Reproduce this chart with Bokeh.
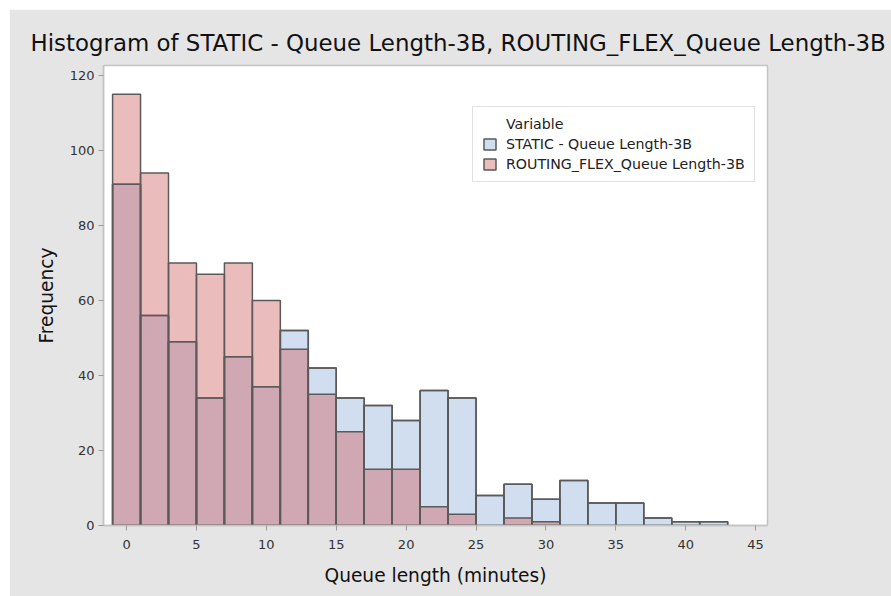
from bokeh.plotting import figure
from bokeh.models import Range1d, ColumnDataSource, Legend, LegendItem, FixedTicker
from bokeh.embed import file_html
from bokeh.resources import INLINE

# Data: bin centres (minutes) and counts per bin
bin_centers = [0, 2, 4, 6, 8, 10, 12, 14, 16, 18, 20, 22, 24, 26, 28, 30, 32, 34, 36, 38, 40, 42]
static_counts = [91, 56, 49, 34, 45, 37, 52, 42, 34, 32, 28, 36, 34, 8, 11, 7, 12, 6, 6, 2, 1, 1]
flex_counts = [115, 94, 70, 67, 70, 60, 47, 35, 25, 15, 15, 5, 3, 0, 2, 1, 0, 0, 0, 0, 0, 0]
bin_width = 2
series_names = ["STATIC - Queue Length-3B", "ROUTING_FLEX_Queue Length-3B"]
x_ticks = [0, 5, 10, 15, 20, 25, 30, 35, 40, 45]
y_ticks = [0, 20, 40, 60, 80, 100, 120]

FONT = "DejaVu Sans"
OUTLINE = "#5a5a5a"


def make_source(counts):
    xs = [c for c, n in zip(bin_centers, counts) if n > 0]
    ns = [n for n in counts if n > 0]
    return ColumnDataSource(dict(
        left=[x - bin_width / 2 for x in xs],
        right=[x + bin_width / 2 for x in xs],
        top=ns,
        bottom=[0] * len(ns),
    ))


src_static = make_source(static_counts)
src_flex = make_source(flex_counts)

p = figure(width=882, height=587, output_backend="svg", toolbar_location=None,
           x_range=Range1d(-1.65, 45.85), y_range=Range1d(0, 122.7),
           min_border_left=94, min_border_right=124, min_border_top=56, min_border_bottom=71)
p.margin = (9, 0, 0, 9)
p.border_fill_color = "#e5e5e5"
p.background_fill_color = "white"
p.outline_line_color = "#c4c4c4"
p.outline_line_width = 1.5
p.grid.visible = False

r_static = p.quad(left="left", right="right", top="top", bottom="bottom", source=src_static,
                  fill_color="#d1def0", line_color=OUTLINE, line_width=1.5)
r_flex = p.quad(left="left", right="right", top="top", bottom="bottom", source=src_flex,
                fill_color="#cd5858", fill_alpha=0.4, line_color=OUTLINE, line_width=1.5)
# redraw static outlines above the translucent overlay
p.quad(left="left", right="right", top="top", bottom="bottom", source=src_static,
       fill_color=None, line_color=OUTLINE, line_width=1.5)

empty = ColumnDataSource(dict(left=[], right=[], top=[], bottom=[]))
r_dummy = p.quad(left="left", right="right", top="top", bottom="bottom", source=empty,
                 fill_alpha=0, line_alpha=0)

legend = Legend(items=[
    LegendItem(label="Variable", renderers=[r_dummy]),
    LegendItem(label=series_names[0], renderers=[r_static]),
    LegendItem(label=series_names[1], renderers=[r_flex]),
], location=(369, 343))
legend.label_text_font = FONT
legend.label_text_font_size = "14.2px"
legend.label_text_color = "#222222"
legend.glyph_width = 15
legend.glyph_height = 14
legend.label_height = 16
legend.spacing = 4
legend.padding = 9
legend.margin = 0
legend.label_standoff = 9
legend.border_line_color = "#c4c4c4"
legend.border_line_width = 1
legend.background_fill_color = "white"
legend.background_fill_alpha = 1
p.add_layout(legend)

p.title.text = "Histogram of STATIC - Queue Length-3B, ROUTING_FLEX_Queue Length-3B"
p.title.text_font = FONT
p.title.text_font_size = "22.9px"
p.title.text_font_style = "normal"
p.title.text_color = "#111111"
p.title.align = "left"
p.title.offset = -73
p.title.standoff = 20

for ax in (p.xaxis[0], p.yaxis[0]):
    ax.axis_line_color = "#c4c4c4"
    ax.axis_line_width = 1.5
    ax.major_tick_line_color = "#9a9a9a"
    ax.major_tick_in = 0
    ax.major_tick_out = 5
    ax.minor_tick_line_color = None
    ax.major_label_text_font = FONT
    ax.major_label_text_font_size = "13px"
    ax.major_label_text_color = "#333333"
    ax.axis_label_text_font = FONT
    ax.axis_label_text_font_size = "18.6px"
    ax.axis_label_text_font_style = "normal"
    ax.axis_label_text_color = "#111111"

p.xaxis.ticker = FixedTicker(ticks=x_ticks)
p.yaxis.ticker = FixedTicker(ticks=y_ticks)
p.xaxis.axis_label = "Queue length (minutes)"
p.yaxis.axis_label = "Frequency"
p.xaxis.major_label_standoff = 9
p.yaxis.major_label_standoff = 4
p.xaxis.axis_label_standoff = 13
p.yaxis.axis_label_standoff = 10

open("out.html", "w").write(file_html(p, INLINE))
